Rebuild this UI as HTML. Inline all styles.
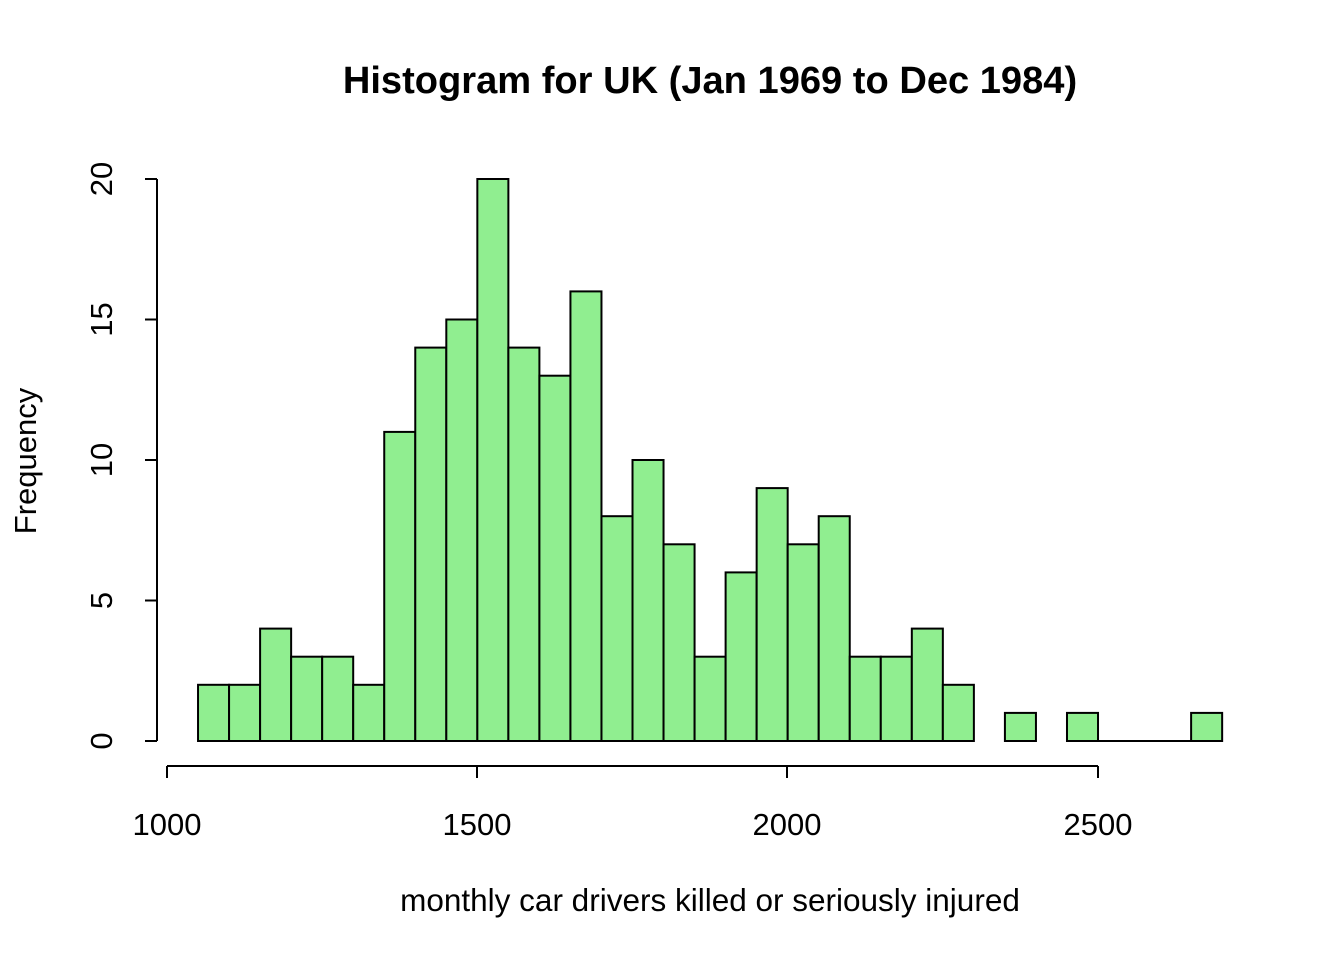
<!DOCTYPE html>
<html><head><meta charset="utf-8"><style>body{margin:0;background:#fff}</style></head><body>
<svg width="1344" height="960" xmlns="http://www.w3.org/2000/svg" font-family="Liberation Sans, Arial, sans-serif">
<rect width="1344" height="960" fill="#fff"/>
<text x="710" y="93" font-size="38.1" font-weight="bold" text-anchor="middle">Histogram for UK (Jan 1969 to Dec 1984)</text>
<g fill="#90ee90" stroke="#000" stroke-width="2">
<rect x="198.03" y="684.8" width="31.03" height="56.2"/>
<rect x="229.07" y="684.8" width="31.03" height="56.2"/>
<rect x="260.10" y="628.6" width="31.03" height="112.4"/>
<rect x="291.14" y="656.7" width="31.03" height="84.3"/>
<rect x="322.17" y="656.7" width="31.03" height="84.3"/>
<rect x="353.20" y="684.8" width="31.03" height="56.2"/>
<rect x="384.24" y="431.9" width="31.03" height="309.1"/>
<rect x="415.27" y="347.6" width="31.03" height="393.4"/>
<rect x="446.31" y="319.5" width="31.03" height="421.5"/>
<rect x="477.34" y="179" width="31.03" height="562"/>
<rect x="508.37" y="347.6" width="31.03" height="393.4"/>
<rect x="539.41" y="375.7" width="31.03" height="365.3"/>
<rect x="570.44" y="291.4" width="31.03" height="449.6"/>
<rect x="601.48" y="516.2" width="31.03" height="224.8"/>
<rect x="632.51" y="460" width="31.03" height="281"/>
<rect x="663.54" y="544.3" width="31.03" height="196.7"/>
<rect x="694.58" y="656.7" width="31.03" height="84.3"/>
<rect x="725.61" y="572.4" width="31.03" height="168.6"/>
<rect x="756.65" y="488.1" width="31.03" height="252.9"/>
<rect x="787.68" y="544.3" width="31.03" height="196.7"/>
<rect x="818.71" y="516.2" width="31.03" height="224.8"/>
<rect x="849.75" y="656.7" width="31.03" height="84.3"/>
<rect x="880.78" y="656.7" width="31.03" height="84.3"/>
<rect x="911.82" y="628.6" width="31.03" height="112.4"/>
<rect x="942.85" y="684.8" width="31.03" height="56.2"/>
<rect x="1004.92" y="712.9" width="31.03" height="28.1"/>
<rect x="1066.99" y="712.9" width="31.03" height="28.1"/>
<rect x="1191.12" y="712.9" width="31.03" height="28.1"/>
</g>
<g stroke="#000" stroke-width="2" fill="none">
<line x1="1098" y1="741" x2="1191" y2="741"/>
<line x1="157" y1="179" x2="157" y2="741"/>
<line x1="145" y1="179" x2="157" y2="179"/>
<line x1="145" y1="319.5" x2="157" y2="319.5"/>
<line x1="145" y1="460" x2="157" y2="460"/>
<line x1="145" y1="600.5" x2="157" y2="600.5"/>
<line x1="145" y1="741" x2="157" y2="741"/>
<line x1="167" y1="766" x2="1098" y2="766"/>
<line x1="167" y1="766" x2="167" y2="778"/>
<line x1="477" y1="766" x2="477" y2="778"/>
<line x1="787" y1="766" x2="787" y2="778"/>
<line x1="1098" y1="766" x2="1098" y2="778"/>
</g>
<g font-size="31" text-anchor="middle">
<text transform="translate(112,741) rotate(-90)">0</text>
<text transform="translate(112,600.5) rotate(-90)">5</text>
<text transform="translate(112,460) rotate(-90)">10</text>
<text transform="translate(112,319.5) rotate(-90)">15</text>
<text transform="translate(112,179) rotate(-90)">20</text>
<text x="167" y="835">1000</text>
<text x="477" y="835">1500</text>
<text x="787" y="835">2000</text>
<text x="1098" y="835">2500</text>
<text x="710" y="911" font-size="31.5">monthly car drivers killed or seriously injured</text>
<text transform="translate(36,461) rotate(-90)">Frequency</text>
</g>
</svg>
</body></html>
